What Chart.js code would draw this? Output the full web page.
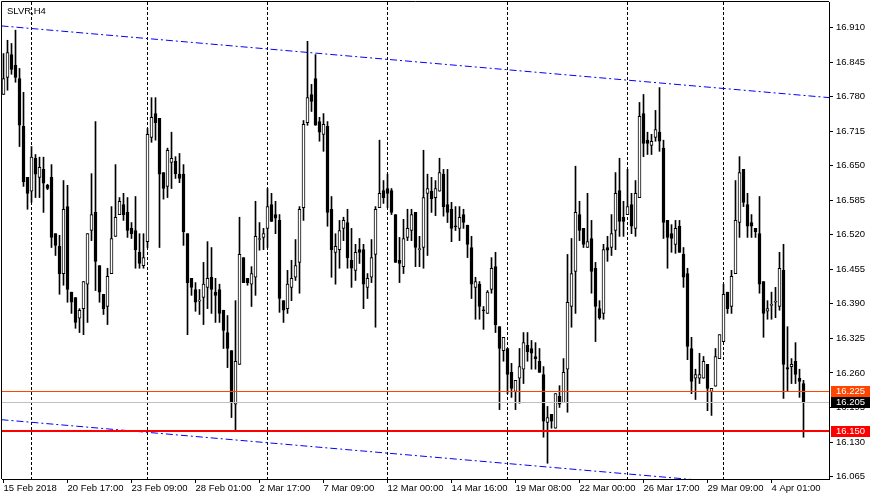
<!DOCTYPE html>
<html>
<head>
<meta charset="utf-8">
<script src="https://cdn.jsdelivr.net/npm/chart.js@4.4.1/dist/chart.umd.min.js"></script>
<style>
html,body{margin:0;padding:0;background:#ffffff;}
#wrap{width:870px;height:500px;position:relative;}
canvas{display:block;}
</style>
</head>
<body>
<div id="wrap"><canvas id="c" width="870" height="500"></canvas></div>
<script>
// ---------------- DATA ----------------
const symbolTitle = 'SLVR,H4';

const opens = [
16.784,16.816,16.859,16.839,16.814,16.724,16.628,16.602,16.664,16.628,
16.643,16.613,16.628,16.522,16.498,16.447,16.573,16.412,16.402,16.363,
16.381,16.427,16.528,16.562,16.462,16.408,16.385,16.447,16.517,16.558,
16.577,16.562,16.532,16.528,16.487,16.462,16.507,16.703,16.748,16.739,
16.637,16.611,16.656,16.658,16.634,16.634,16.522,16.438,16.417,16.395,
16.402,16.421,16.440,16.412,16.417,16.378,16.336,16.302,16.201,16.276,
16.477,16.438,16.427,16.440,16.511,16.515,16.532,16.577,16.558,16.547,
16.396,16.381,16.421,16.440,16.468,16.571,16.731,16.784,16.814,16.733,
16.709,16.724,16.568,16.487,16.492,16.532,16.543,16.472,16.453,16.492,
16.492,16.421,16.440,16.483,16.571,16.603,16.607,16.603,16.558,16.472,
16.460,16.515,16.528,16.562,16.492,16.496,16.598,16.602,16.590,16.602,
16.634,16.577,16.568,16.536,16.532,16.558,16.538,16.496,16.421,16.427,
16.378,16.372,16.417,16.460,16.347,16.302,16.306,16.261,16.225,16.250,
16.267,16.312,16.306,16.291,16.282,16.257,16.167,16.182,16.156,16.216,
16.204,16.267,16.385,16.451,16.558,16.532,16.496,16.513,16.457,16.381,
16.372,16.496,16.496,16.528,16.603,16.553,16.558,16.577,16.532,16.590,
16.748,16.698,16.688,16.703,16.713,16.683,16.547,16.522,16.502,16.536,
16.483,16.447,16.306,16.250,16.250,16.250,16.276,16.225,16.235,16.287,
16.319,16.412,16.385,16.447,16.543,16.643,16.577,16.543,16.532,16.522,
16.432,16.376,16.387,16.393,16.385,16.453,16.270,16.272,16.282,16.250,
16.240
];
const highs = [
16.861,16.886,16.880,16.905,16.833,16.788,16.628,16.686,16.671,16.666,
16.666,16.615,16.652,16.522,16.519,16.622,16.613,16.412,16.402,16.381,
16.432,16.522,16.635,16.733,16.462,16.408,16.457,16.573,16.652,16.590,
16.598,16.590,16.543,16.592,16.522,16.522,16.720,16.778,16.778,16.739,
16.637,16.683,16.713,16.667,16.673,16.652,16.522,16.438,16.430,16.417,
16.468,16.507,16.496,16.438,16.427,16.378,16.368,16.302,16.396,16.553,
16.477,16.438,16.460,16.583,16.543,16.532,16.607,16.598,16.583,16.558,
16.396,16.453,16.472,16.511,16.573,16.735,16.884,16.803,16.859,16.741,
16.748,16.733,16.592,16.522,16.547,16.553,16.568,16.532,16.502,16.513,
16.502,16.447,16.511,16.573,16.698,16.622,16.634,16.607,16.558,16.515,
16.549,16.568,16.568,16.562,16.517,16.679,16.634,16.628,16.622,16.664,
16.643,16.643,16.581,16.573,16.573,16.568,16.538,16.517,16.440,16.432,
16.385,16.415,16.477,16.487,16.347,16.327,16.306,16.278,16.246,16.306,
16.336,16.336,16.321,16.317,16.306,16.272,16.197,16.182,16.221,16.236,
16.287,16.483,16.513,16.649,16.583,16.532,16.598,16.547,16.468,16.396,
16.502,16.517,16.558,16.637,16.664,16.583,16.643,16.598,16.622,16.769,
16.784,16.713,16.709,16.754,16.797,16.698,16.547,16.539,16.547,16.547,
16.496,16.457,16.327,16.267,16.297,16.291,16.276,16.231,16.306,16.332,
16.427,16.412,16.453,16.622,16.667,16.643,16.598,16.558,16.532,16.592,
16.432,16.396,16.412,16.421,16.487,16.502,16.347,16.287,16.317,16.267,
16.246
];
const lows = [
16.784,16.792,16.822,16.807,16.686,16.611,16.568,16.581,16.590,16.590,
16.562,16.605,16.496,16.481,16.408,16.425,16.393,16.372,16.344,16.336,
16.332,16.355,16.509,16.415,16.393,16.370,16.351,16.447,16.517,16.558,
16.547,16.515,16.513,16.457,16.457,16.457,16.496,16.694,16.698,16.496,
16.587,16.590,16.607,16.626,16.618,16.500,16.332,16.406,16.376,16.370,
16.351,16.381,16.372,16.355,16.355,16.306,16.270,16.176,16.152,16.276,
16.430,16.425,16.385,16.406,16.491,16.492,16.496,16.545,16.522,16.374,
16.355,16.372,16.396,16.434,16.410,16.547,16.726,16.752,16.726,16.696,
16.677,16.536,16.440,16.427,16.457,16.509,16.457,16.421,16.434,16.466,
16.381,16.400,16.430,16.346,16.571,16.579,16.571,16.558,16.468,16.430,
16.447,16.509,16.509,16.460,16.460,16.457,16.481,16.562,16.556,16.602,
16.555,16.543,16.507,16.528,16.509,16.532,16.477,16.400,16.361,16.361,
16.342,16.372,16.410,16.336,16.191,16.282,16.221,16.214,16.191,16.203,
16.240,16.282,16.267,16.267,16.261,16.139,16.090,16.156,16.156,16.195,
16.204,16.186,16.346,16.372,16.509,16.496,16.496,16.410,16.319,16.361,
16.361,16.470,16.481,16.492,16.517,16.517,16.558,16.522,16.517,16.590,
16.667,16.671,16.671,16.696,16.677,16.513,16.457,16.487,16.485,16.487,
16.421,16.285,16.221,16.210,16.240,16.250,16.189,16.180,16.235,16.287,
16.319,16.372,16.372,16.447,16.515,16.573,16.515,16.515,16.515,16.410,
16.327,16.361,16.361,16.364,16.378,16.212,16.225,16.240,16.240,16.214,
16.139
];
const closes = [
16.814,16.863,16.831,16.816,16.726,16.620,16.598,16.666,16.634,16.647,
16.617,16.607,16.515,16.500,16.447,16.568,16.417,16.393,16.355,16.378,
16.432,16.522,16.558,16.470,16.412,16.381,16.442,16.513,16.553,16.583,
16.558,16.528,16.522,16.492,16.466,16.477,16.709,16.741,16.731,16.634,
16.607,16.679,16.664,16.635,16.626,16.526,16.430,16.421,16.393,16.397,
16.427,16.438,16.417,16.406,16.372,16.340,16.306,16.204,16.282,16.483,
16.430,16.430,16.447,16.517,16.513,16.522,16.573,16.545,16.551,16.400,
16.378,16.427,16.438,16.462,16.568,16.728,16.778,16.771,16.726,16.713,
16.728,16.562,16.492,16.498,16.528,16.547,16.477,16.457,16.487,16.487,
16.427,16.438,16.477,16.568,16.598,16.590,16.598,16.562,16.468,16.466,
16.513,16.532,16.558,16.496,16.493,16.590,16.607,16.588,16.607,16.637,
16.573,16.562,16.532,16.535,16.553,16.543,16.502,16.427,16.432,16.385,
16.377,16.412,16.457,16.351,16.306,16.327,16.257,16.231,16.246,16.272,
16.317,16.300,16.297,16.287,16.261,16.169,16.176,16.169,16.221,16.201,
16.261,16.393,16.447,16.562,16.528,16.502,16.507,16.451,16.385,16.364,
16.492,16.491,16.522,16.598,16.545,16.545,16.573,16.536,16.598,16.743,
16.692,16.692,16.696,16.718,16.696,16.543,16.515,16.513,16.532,16.487,
16.440,16.310,16.244,16.257,16.257,16.282,16.231,16.231,16.291,16.332,
16.408,16.381,16.442,16.547,16.637,16.581,16.536,16.536,16.526,16.427,
16.372,16.381,16.388,16.394,16.457,16.276,16.267,16.276,16.257,16.244,
16.205
];

const timeTickBars = [0,16,32,48,64,80,96,112,128,144,160,176,192];
const timeTickLabels = ['15 Feb 2018','20 Feb 17:00','23 Feb 09:00','28 Feb 01:00','2 Mar 17:00','7 Mar 09:00','12 Mar 00:00','14 Mar 16:00','19 Mar 08:00','22 Mar 00:00','26 Mar 17:00','29 Mar 09:00','4 Apr 01:00'];
const weekStartBars = [7,36,66,96,126,156,180];
const priceTicks = [16.065,16.130,16.195,16.260,16.325,16.390,16.455,16.520,16.585,16.650,16.715,16.780,16.845,16.910];

const levelPrices = [16.225, 16.150, 16.205];
const trendX = [-0.5, 206.5];
const upperTrendPrices = [16.913, 16.778];
const lowerTrendPrices = [16.172, 16.037];

// ---------------- STYLE ----------------
const levelStyles = [
  {color:'#ff4500', width:1, box:'#ff4500'},
  {color:'#ff0000', width:2, box:'#ff0000'},
  {color:'#c0c0c0', width:1, box:'#000000'}
];
const FONT = 'Liberation Sans';
const FSIZE = 9.5;

Chart.defaults.font.family = FONT;
Chart.defaults.font.size = FSIZE;
Chart.defaults.color = '#000';

const bodyData = opens.map((o,i)=>({x:i, y:[o, closes[i]]}));
const wickData = lows.map((l,i)=>({x:i, y:[l, highs[i]]}));
const bodyFill = opens.map((o,i)=> closes[i] >= o ? '#ffffff' : '#000000');

const mtPlugin = {
  id: 'mt',
  beforeDatasetsDraw(chart) {
    const {ctx, chartArea:a, scales:{x}} = chart;
    ctx.save();
    ctx.strokeStyle = '#000';
    ctx.lineWidth = 1;
    ctx.setLineDash([3,2]);
    weekStartBars.forEach(b => {
      const px = Math.floor(x.getPixelForValue(b)) + 0.5;
      ctx.beginPath();
      ctx.moveTo(px, a.top);
      ctx.lineTo(px, a.bottom);
      ctx.stroke();
    });
    ctx.restore();
  },
  afterDatasetsDraw(chart) {
    const {ctx, chartArea:a, scales:{y}} = chart;
    ctx.save();
    levelPrices.forEach((p, i) => {
      const st = levelStyles[i];
      const py = Math.floor(y.getPixelForValue(p));
      ctx.fillStyle = st.color;
      ctx.fillRect(a.left, py - (st.width === 2 ? 1 : 0), a.right - a.left, st.width);
    });
    // title
    ctx.fillStyle = '#000';
    ctx.font = FSIZE + 'px "' + FONT + '"';
    ctx.textAlign = 'left';
    ctx.textBaseline = 'alphabetic';
    ctx.fillText(symbolTitle, a.left + 5, a.top + 12);
    ctx.restore();
  },
  afterDraw(chart) {
    const {ctx, chartArea:a, scales:{y}} = chart;
    ctx.save();
    // frame (left & top)
    ctx.strokeStyle = '#000';
    ctx.lineWidth = 1;
    ctx.beginPath();
    ctx.moveTo(a.left - 0.5, a.bottom);
    ctx.lineTo(a.left - 0.5, a.top - 0.5);
    ctx.lineTo(a.right, a.top - 0.5);
    ctx.stroke();
    // level boxes on price axis
    ctx.font = FSIZE + 'px "' + FONT + '"';
    ctx.textAlign = 'left';
    ctx.textBaseline = 'middle';
    levelPrices.forEach((p, i) => {
      const st = levelStyles[i];
      const py = Math.floor(y.getPixelForValue(p));
      ctx.fillStyle = st.box;
      ctx.fillRect(a.right + 2, py - 5, 870 - a.right - 2, 11);
      ctx.fillStyle = '#ffffff';
      ctx.fillText(p.toFixed(3), a.right + 7, py + 0.5);
    });
    ctx.restore();
  }
};

new Chart(document.getElementById('c'), {
  type: 'bar',
  data: {
    datasets: [
      {type:'line', data: trendX.map((v,i)=>({x:v, y:upperTrendPrices[i]})), borderColor:'#0000ff', borderWidth:1, borderDash:[7,3,2,3], pointRadius:0, fill:false, order:0},
      {type:'line', data: trendX.map((v,i)=>({x:v, y:lowerTrendPrices[i]})), borderColor:'#0000ff', borderWidth:1, borderDash:[7,3,2,3], pointRadius:0, fill:false, order:0},
      {type:'bar', data: bodyData, backgroundColor: bodyFill, borderColor:'#000000', borderWidth:1, borderSkipped:false, barThickness:3, grouped:false, minBarLength:1, order:1},
      {type:'bar', data: wickData, backgroundColor:'#000000', borderWidth:0, barThickness:1, grouped:false, order:2}
    ]
  },
  options: {
    responsive: false,
    devicePixelRatio: 1,
    animation: false,
    events: [],
    layout: {padding: {left:2, top:2, right:0, bottom:0}},
    plugins: {legend:{display:false}, tooltip:{enabled:false}, title:{display:false}},
    scales: {
      x: {
        type: 'linear',
        min: -0.375,
        max: 206.375,
        offset: false,
        grid: {offset:false, drawOnChartArea:false, drawTicks:true, tickLength:4, tickColor:'#000', color:'#000'},
        border: {display:true, color:'#000', width:1},
        ticks: {autoSkip:false, maxRotation:0, minRotation:0, align:'start', padding:0, color:'#000',
                callback: (v, i) => timeTickLabels[i]},
        afterBuildTicks: s => { s.ticks = timeTickBars.map(v => ({value:v})); },
        afterFit: s => { s.height = 21; s.paddingLeft = 0; s.paddingRight = 0; s.paddingTop = 0; s.paddingBottom = 0; }
      },
      y: {
        type: 'linear',
        position: 'right',
        min: 16.0604,
        max: 16.958,
        grid: {drawOnChartArea:false, drawTicks:true, tickLength:4, tickColor:'#000', color:'#000'},
        border: {display:true, color:'#000', width:1},
        ticks: {autoSkip:false, padding:3, color:'#000', callback: v => Number(v).toFixed(3)},
        afterBuildTicks: s => { s.ticks = priceTicks.map(v => ({value:v})); },
        afterFit: s => { s.width = 41; s.paddingTop = 0; s.paddingBottom = 0; s.paddingLeft = 0; s.paddingRight = 0; }
      }
    }
  },
  plugins: [mtPlugin]
});
</script>
</body>
</html>
